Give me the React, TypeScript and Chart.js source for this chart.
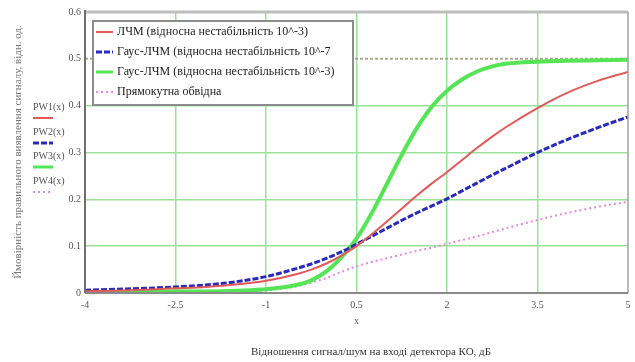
import React, { useEffect, useRef } from "react";
import { Chart, registerables } from "chart.js";

Chart.register(...registerables);

// ---- data ----
const X_VALUES = [-4, -3.5, -3, -2.5, -2, -1.5, -1, -0.5, -0.25, 0, 0.25, 0.5, 0.75, 1, 1.25, 1.5, 1.75, 2, 2.25, 2.5, 2.75, 3, 3.5, 4, 4.5, 5];
const LFM_E3 = [0.004, 0.005, 0.007, 0.01, 0.013, 0.018, 0.026, 0.04, 0.05, 0.063, 0.08, 0.1, 0.125, 0.152, 0.18, 0.208, 0.234, 0.258, 0.284, 0.31, 0.334, 0.356, 0.395, 0.428, 0.453, 0.472];
const GAUSS_E7 = [0.006, 0.008, 0.01, 0.013, 0.017, 0.024, 0.035, 0.052, 0.062, 0.074, 0.088, 0.104, 0.121, 0.138, 0.155, 0.171, 0.186, 0.201, 0.218, 0.235, 0.252, 0.268, 0.3, 0.328, 0.353, 0.376];
const GAUSS_E3 = [0.002, 0.002, 0.002, 0.003, 0.003, 0.005, 0.008, 0.017, 0.027, 0.046, 0.076, 0.116, 0.17, 0.232, 0.295, 0.352, 0.398, 0.432, 0.456, 0.473, 0.484, 0.49, 0.494, 0.496, 0.497, 0.498];
const RECT = [0.001, 0.001, 0.001, 0.001, 0.002, 0.003, 0.006, 0.014, 0.022, 0.032, 0.045, 0.057, 0.066, 0.074, 0.082, 0.09, 0.097, 0.105, 0.113, 0.121, 0.13, 0.139, 0.156, 0.171, 0.184, 0.195];

const X_TICKS = [-4, -2.5, -1, 0.5, 2, 3.5, 5];
const Y_TICKS = [0, 0.1, 0.2, 0.3, 0.4, 0.5, 0.6];
const MARKER_Y = 0.5;

const SERIES_LABELS = [
  "ЛЧМ (відносна нестабільність 10^-3)",
  "Гаус-ЛЧМ (відносна нестабільність 10^-7",
  "Гаус-ЛЧМ (відносна нестабільність 10^-3)",
  "Прямокутна обвідна",
];
const TRACE_NAMES = ["PW1(x)", "PW2(x)", "PW3(x)", "PW4(x)"];
const X_VAR = "x";
const X_TITLE = "Відношення сигнал/шум на вході детектора КО, дБ";
const Y_TITLE = "Ймовірність правильного виявлення сигналу, відн. од.";

// ---- styles ----
const COLORS = ["#e05a5a", "#2a2ab8", "#55e455", "#e48ada"];
const WIDTHS = [2, 3, 4, 2];
const DASHES: number[][] = [[], [6, 2], [], [2, 3]];
const GRID = "#9ae29a";
const FONT = "'Liberation Serif', 'DejaVu Serif', serif";

const overlay = {
  id: "overlay",
  beforeDatasetsDraw(chart: any) {
    const { ctx, chartArea, scales } = chart;
    const y = scales.y.getPixelForValue(MARKER_Y);
    ctx.save();
    ctx.strokeStyle = "#a9a98f";
    ctx.lineWidth = 2;
    ctx.setLineDash([3, 2]);
    ctx.beginPath();
    ctx.moveTo(chartArea.left, y);
    ctx.lineTo(chartArea.right, y);
    ctx.stroke();
    ctx.restore();
  },
  afterDraw(chart: any) {
    const { ctx, chartArea, scales } = chart;
    const { left, right, top, bottom } = chartArea;
    ctx.save();
    // frame
    ctx.setLineDash([]);
    ctx.strokeStyle = "#bdbdbd";
    ctx.lineWidth = 3;
    ctx.beginPath();
    ctx.moveTo(left, top);
    ctx.lineTo(right, top);
    ctx.stroke();
    ctx.strokeStyle = "#a0a0a0";
    ctx.lineWidth = 1.5;
    ctx.beginPath();
    ctx.moveTo(right, top);
    ctx.lineTo(right, bottom);
    ctx.stroke();
    ctx.strokeStyle = "#8a8a8a";
    ctx.lineWidth = 2;
    ctx.beginPath();
    ctx.moveTo(left, bottom);
    ctx.lineTo(right, bottom);
    ctx.stroke();
    ctx.strokeStyle = "#707070";
    ctx.beginPath();
    ctx.moveTo(left, top - 2);
    ctx.lineTo(left, bottom);
    ctx.stroke();

    // tick labels
    ctx.fillStyle = "#555";
    ctx.font = `10px ${FONT}`;
    ctx.textAlign = "center";
    ctx.textBaseline = "middle";
    X_TICKS.forEach((t) => {
      ctx.fillText(String(t), scales.x.getPixelForValue(t), bottom + 12);
    });
    ctx.textAlign = "right";
    Y_TICKS.forEach((t) => {
      ctx.fillText(String(t), left - 4, scales.y.getPixelForValue(t));
    });
    ctx.textAlign = "center";
    ctx.fillText(X_VAR, scales.x.getPixelForValue(X_TICKS[3]), bottom + 28);

    // axis titles
    ctx.fillStyle = "#333";
    ctx.font = `11px ${FONT}`;
    ctx.fillText(X_TITLE, 371, 352);
    ctx.save();
    ctx.translate(18, 152);
    ctx.rotate(-Math.PI / 2);
    ctx.fillStyle = "#777";
    ctx.fillText(Y_TITLE, 0, 0);
    ctx.restore();

    // trace names stack
    ctx.font = `10px ${FONT}`;
    ctx.textAlign = "left";
    const stackY = [107, 132, 156, 181];
    TRACE_NAMES.forEach((n, i) => {
      ctx.fillStyle = "#555";
      ctx.fillText(n, 33, stackY[i]);
      ctx.strokeStyle = COLORS[i];
      ctx.lineWidth = Math.min(WIDTHS[i], 3);
      ctx.setLineDash(DASHES[i]);
      ctx.beginPath();
      ctx.moveTo(33, stackY[i] + 11);
      ctx.lineTo(53, stackY[i] + 11);
      ctx.stroke();
    });
    ctx.setLineDash([]);

    // legend
    const lx = 93, ly = 21, lw = 260, lh = 84;
    ctx.fillStyle = "#fff";
    ctx.fillRect(lx, ly, lw, lh);
    ctx.strokeStyle = "#8c8c8c";
    ctx.lineWidth = 2;
    ctx.strokeRect(lx, ly, lw, lh);
    ctx.font = `12px ${FONT}`;
    ctx.textBaseline = "middle";
    SERIES_LABELS.forEach((s, i) => {
      const yy = ly + 11 + i * 20;
      ctx.strokeStyle = COLORS[i];
      ctx.lineWidth = Math.min(WIDTHS[i], 3);
      ctx.setLineDash(DASHES[i]);
      ctx.beginPath();
      ctx.moveTo(lx + 3, yy);
      ctx.lineTo(lx + 20, yy);
      ctx.stroke();
      ctx.setLineDash([]);
      ctx.fillStyle = "#222";
      ctx.fillText(s, lx + 24, yy);
    });
    ctx.restore();
  },
};

const isEdge = (v: number, a: number, b: number) => Math.abs(v - a) < 1e-6 || Math.abs(v - b) < 1e-6;

export default function App() {
  const ref = useRef<HTMLCanvasElement>(null);
  useEffect(() => {
    const series = [LFM_E3, GAUSS_E7, GAUSS_E3, RECT];
    const chart = new Chart(ref.current as HTMLCanvasElement, {
      type: "line",
      data: {
        datasets: series.map((vals, i) => ({
          label: SERIES_LABELS[i],
          data: X_VALUES.map((x, j) => ({ x, y: vals[j] })),
          borderColor: COLORS[i],
          borderWidth: WIDTHS[i],
          borderDash: DASHES[i],
          pointRadius: 0,
          fill: false,
          cubicInterpolationMode: "monotone" as const,
        })),
      },
      options: {
        responsive: false,
        animation: false,
        layout: { padding: { left: 85, right: 7, top: 12, bottom: 69 } },
        plugins: { legend: { display: false }, tooltip: { enabled: false } },
        scales: {
          x: {
            type: "linear",
            min: -4,
            max: 5,
            ticks: { stepSize: 1.5, display: false },
            grid: {
              drawTicks: false,
              lineWidth: 1.5,
              color: (c: any) => (c.tick && isEdge(c.tick.value, -4, 5) ? "rgba(0,0,0,0)" : GRID),
            },
            border: { display: false },
          },
          y: {
            min: 0,
            max: 0.6,
            ticks: { stepSize: 0.1, display: false },
            grid: {
              drawTicks: false,
              lineWidth: 1.5,
              color: (c: any) =>
                c.tick && (isEdge(c.tick.value, 0, 0.6) || Math.abs(c.tick.value - MARKER_Y) < 1e-6)
                  ? "rgba(0,0,0,0)"
                  : GRID,
            },
            border: { display: false },
          },
        },
      },
      plugins: [overlay],
    });
    return () => chart.destroy();
  }, []);
  return (
    <div style={{ position: "fixed", left: 0, top: 0, width: 635, height: 362, background: "#fff" }}>
      <canvas ref={ref} width={635} height={362} style={{ display: "block", width: 635, height: 362 }} />
    </div>
  );
}
